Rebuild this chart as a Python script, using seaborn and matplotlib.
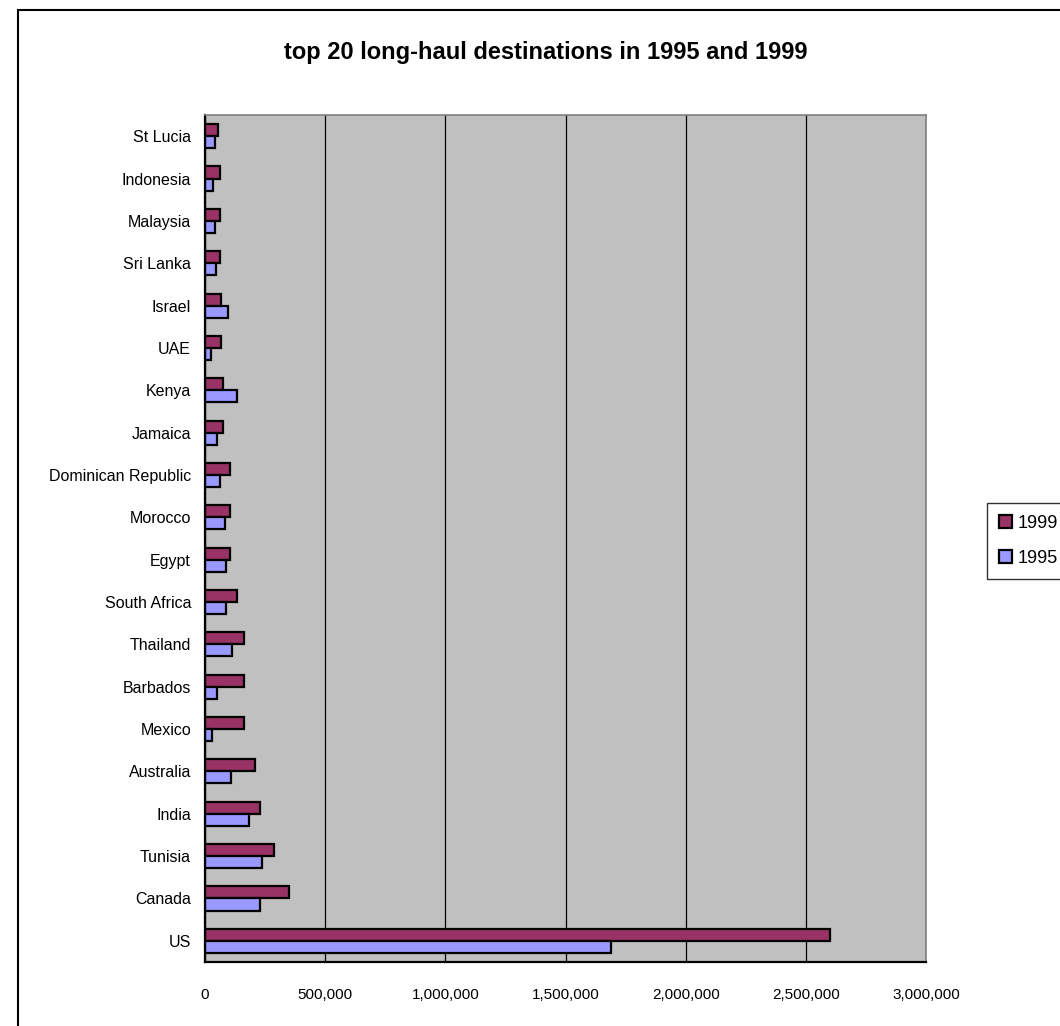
import matplotlib
matplotlib.use("Agg")
import matplotlib.pyplot as plt
from matplotlib.patches import Rectangle
from matplotlib.ticker import FuncFormatter, FixedLocator
import seaborn as sns
import pandas as pd

countries = ["St Lucia", "Indonesia", "Malaysia", "Sri Lanka", "Israel", "UAE",
             "Kenya", "Jamaica", "Dominican Republic", "Morocco", "Egypt",
             "South Africa", "Thailand", "Barbados", "Mexico", "Australia",
             "India", "Tunisia", "Canada", "US"]
visits_1999 = [53000, 64000, 64000, 63000, 68000, 68000, 76000, 76000, 104000,
               104000, 102000, 133000, 164000, 164000, 164000, 209000, 228000,
               289000, 351000, 2600000]
visits_1995 = [42000, 32000, 42000, 47000, 95000, 27000, 133000, 52000, 61000,
               84000, 88000, 86000, 111000, 50000, 31000, 107000, 183000,
               236000, 230000, 1689000]
years = ["1999", "1995"]
x_ticks = [0, 500000, 1000000, 1500000, 2000000, 2500000, 3000000]

df = pd.DataFrame({
    "country": countries * 2,
    "visits": visits_1999 + visits_1995,
    "year": [years[0]] * len(countries) + [years[1]] * len(countries),
})

sns.set_style("white")
plt.rcParams["font.family"] = ["Liberation Sans", "DejaVu Sans"]
plt.rcParams["text.color"] = "black"
plt.rcParams["xtick.labelcolor"] = "black"
plt.rcParams["ytick.labelcolor"] = "black"

W, H = 1060, 1026
fig = plt.figure(figsize=(W / 100, H / 100), dpi=100)
fig.patch.set_facecolor("white")
ax = fig.add_axes([205 / W, 1 - 962 / H, (926 - 205) / W, (962 - 115) / H])
ax.set_facecolor("#C0C0C0")

sns.barplot(data=df, y="country", x="visits", hue="year", hue_order=years,
            order=countries, palette={"1999": "#993366", "1995": "#9999FF"},
            orient="h", width=0.57, gap=0, saturation=1,
            edgecolor="black", linewidth=1.6, ax=ax)

ax.set_xlim(0, 3000000)
ax.set_ylim(len(countries) - 0.5, -0.5)
ax.set_xticks(x_ticks)
ax.xaxis.set_major_formatter(FuncFormatter(lambda v, p: f"{v:,.0f}"))
ax.set_axisbelow(True)
ax.xaxis.grid(True, color="black", linewidth=0.9)
ax.yaxis.grid(False)
ax.set_xlabel("")
ax.set_ylabel("")

ax.tick_params(axis="y", which="major", length=0, pad=10, labelsize=11.5,
               labelcolor="black")
ax.yaxis.set_minor_locator(FixedLocator([i - 0.5 for i in range(len(countries) + 1)]))
ax.tick_params(axis="y", which="minor", length=5, width=1.5, color="black", direction="out")
ax.tick_params(axis="x", which="major", length=5, width=1.5, color="black",
               direction="out", pad=14, labelsize=11, labelcolor="black")

for s in ["left", "bottom"]:
    ax.spines[s].set_color("black")
    ax.spines[s].set_linewidth(1.6)
for s in ["top", "right"]:
    ax.spines[s].set_color("#808080")
    ax.spines[s].set_linewidth(1.2)

fig.text(546 / W, 1 - 53 / H, "top 20 long-haul destinations in 1995 and 1999",
         ha="center", va="center", fontsize=17, fontweight="bold", color="black")

leg = ax.legend(loc="upper left", bbox_to_anchor=(987 / W, 1 - 503 / H),
                bbox_transform=fig.transFigure, frameon=True, fancybox=False,
                fontsize=13, handlelength=0.75, handleheight=0.75,
                handletextpad=0.3, borderpad=0.65, labelspacing=1.0,
                borderaxespad=0)
leg.get_frame().set_edgecolor("black")
leg.get_frame().set_linewidth(1.0)
for t in leg.get_texts():
    t.set_color("black")
for h in leg.legend_handles:
    h.set_edgecolor("black")
    h.set_linewidth(1.6)

fig.patches.append(Rectangle((18 / W, -0.2), 2.0, (H - 10) / H + 0.2,
                             transform=fig.transFigure, fill=False,
                             edgecolor="black", linewidth=1.5, zorder=0))

fig.savefig("out.png", dpi=100)
